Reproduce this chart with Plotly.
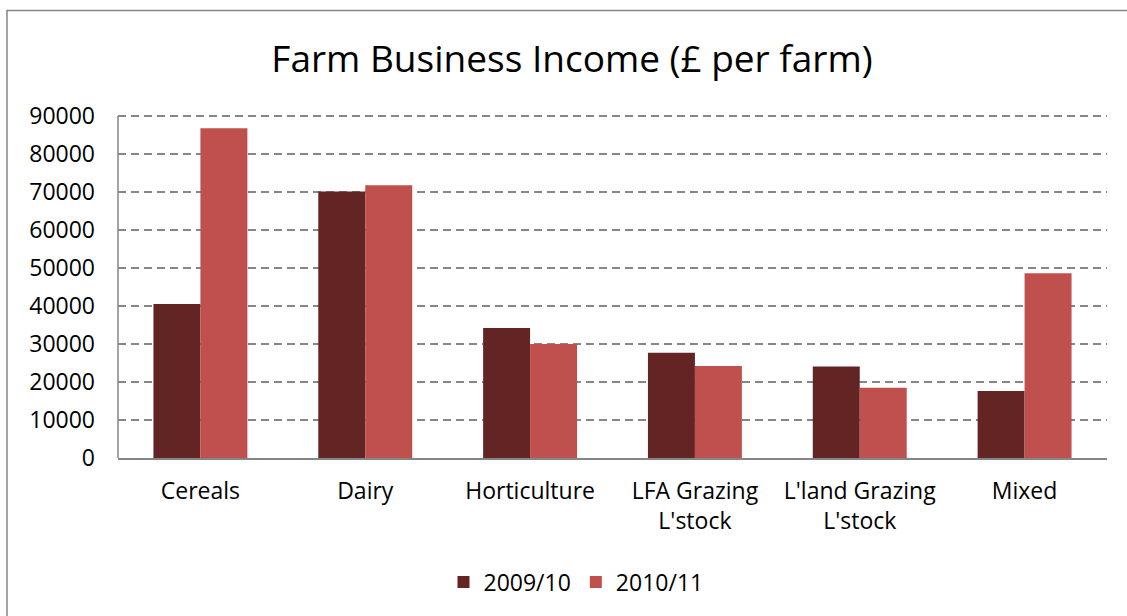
import plotly.graph_objects as go

# Farm Business Income by farm type, two accounting years
categories = ["Cereals", "Dairy", "Horticulture", "LFA Grazing<br>L'stock",
              "L'land Grazing<br>L'stock", "Mixed"]
income_2009_10 = [40500, 70100, 34200, 27700, 24100, 17600]
income_2010_11 = [86800, 71800, 30000, 24200, 18500, 48600]
y_ticks = [0, 10000, 20000, 30000, 40000, 50000, 60000, 70000, 80000, 90000]
y_tick_text = [str(v) for v in y_ticks]

FONT = "Open Sans"
GREY = "#868686"

W, H = 1127, 616
L, R, T, B = 118, 20, 112, 158
pw, ph = W - L - R, H - T - B
# leave a few pixels above the top gridline so it is drawn
y_top = 90000 * ph / (458 - 116)

fig = go.Figure()
fig.add_trace(go.Bar(name="2009/10", x=categories, y=income_2009_10,
                     marker=dict(color="#632523", line=dict(width=0))))
fig.add_trace(go.Bar(name="2010/11", x=categories, y=income_2010_11,
                     marker=dict(color="#C0504D", line=dict(width=0))))

def px_x(x):
    return (x - L) / pw

def px_y(y):
    return (H - B - y) / ph

fig.update_layout(
    width=W, height=H,
    margin=dict(l=L, r=R, t=T, b=B, pad=0),
    paper_bgcolor="white", plot_bgcolor="white",
    barmode="group", bargap=0.43, bargroupgap=0,
    font=dict(family=FONT, size=23, color="black"),
    title=dict(text="Farm Business Income (£ per farm)",
               font=dict(family=FONT, size=37, color="black"),
               x=572 / W, xref="container", xanchor="center",
               y=1 - 59 / H, yanchor="middle"),
    xaxis=dict(showline=True, linecolor=GREY, linewidth=1.5, ticks="",
               tickfont=dict(family=FONT, size=23), ticklabelstandoff=12,
               showgrid=False),
    yaxis=dict(range=[0, y_top], tickvals=y_ticks, ticktext=y_tick_text, ticks="",
               showline=False,
               showgrid=True, gridcolor=GREY, gridwidth=1.5, griddash="8px,5px",
               tickfont=dict(family=FONT, size=23), ticklabelstandoff=22,
               zeroline=False),
    legend=dict(orientation="h", x=576 / W, xanchor="center",
                xref="container", y=1 - 582 / H, yref="container", yanchor="middle",
                font=dict(family=FONT, size=23), itemwidth=30,
                traceorder="normal"),
    showlegend=True,
)

# value-axis line, running from 0 up to the top gridline
fig.add_shape(type="line", xref="paper", yref="y",
              x0=0, x1=0, y0=0, y1=y_ticks[-1],
              line=dict(color=GREY, width=1.5), layer="above")

# chart-area border
fig.add_shape(type="rect", xref="paper", yref="paper",
              x0=px_x(7), x1=px_x(1220), y0=px_y(650), y1=px_y(10.5),
              line=dict(color=GREY, width=1.5), fillcolor="rgba(0,0,0,0)",
              layer="below")

fig.write_html("out.html")
